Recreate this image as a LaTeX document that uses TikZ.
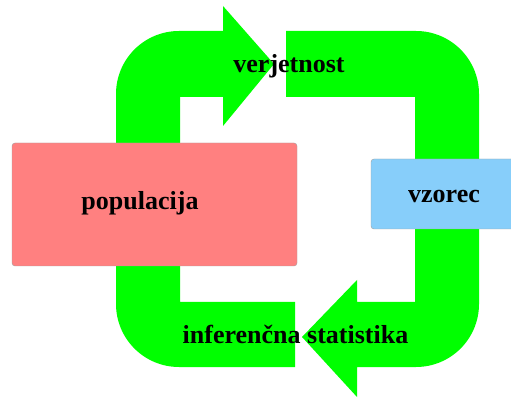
\documentclass[tikz,border=0pt]{standalone}
\usepackage{fontspec}
\setmainfont{Liberation Serif}
\usepackage{tikz}
\usetikzlibrary{calc}
\usetikzlibrary{backgrounds}
\definecolor{color_loop_arrow}{HTML}{00FF00}
\definecolor{color_population_bg}{HTML}{FF8080}
\definecolor{color_sample_bg}{HTML}{87CEFA}
\definecolor{color_box_border}{HTML}{A0A0A0}
\def\loopradius{63}
\def\boxcornerradius{3pt}
\def\labelsize{\fontsize{26}{31}\selectfont\bfseries}
\tikzset{
    boxshape/.style={draw=color_box_border,line width=0.4pt,rounded corners=\boxcornerradius,inner sep=0pt},
    looplabel/.style={anchor=base,inner sep=0pt,font=\labelsize}
}

\begin{document}
\begin{tikzpicture}[x=1pt,y=1pt]
        \useasboundingbox (0,0) rectangle (511,399);
        % left arrow: up the left side, then right along the top
        \fill[color_loop_arrow] (295,32) -- (179,32) arc (270:180:\loopradius) -- (116,305)
            arc (180:90:\loopradius) -- (223,368) -- (223,393) -- (274,335) -- (223,273)
            -- (223,302) -- (180,302) -- (180,97) -- (295,97) -- cycle;
        % right arrow: down the right side, then left along the bottom
        \fill[color_loop_arrow] (286,368) -- (416,368) arc (90:0:\loopradius) -- (479,95)
            arc (0:-90:\loopradius) -- (357,32) -- (357,2) -- (302,62) -- (357,119)
            -- (357,97) -- (415,97) -- (415,302) -- (286,302) -- cycle;
        % the two boxes
        \node[boxshape,fill=color_population_bg,minimum width=285pt,minimum height=123pt] (population) at (154.5,194.5) {};
        \node[boxshape,fill=color_sample_bg,minimum width=144pt,minimum height=70pt] (sample) at (443,205) {};
        % labels
        \node[looplabel] (populationlabel) at (140,189) {populacija};
        \node[looplabel] (samplelabel) at (444,196) {vzorec};
        \node[looplabel] (probability) at (289,326) {verjetnost};
        \node[looplabel] (inference) at (295.5,56) {inferenčna statistika};
    \end{tikzpicture}
\end{document}
